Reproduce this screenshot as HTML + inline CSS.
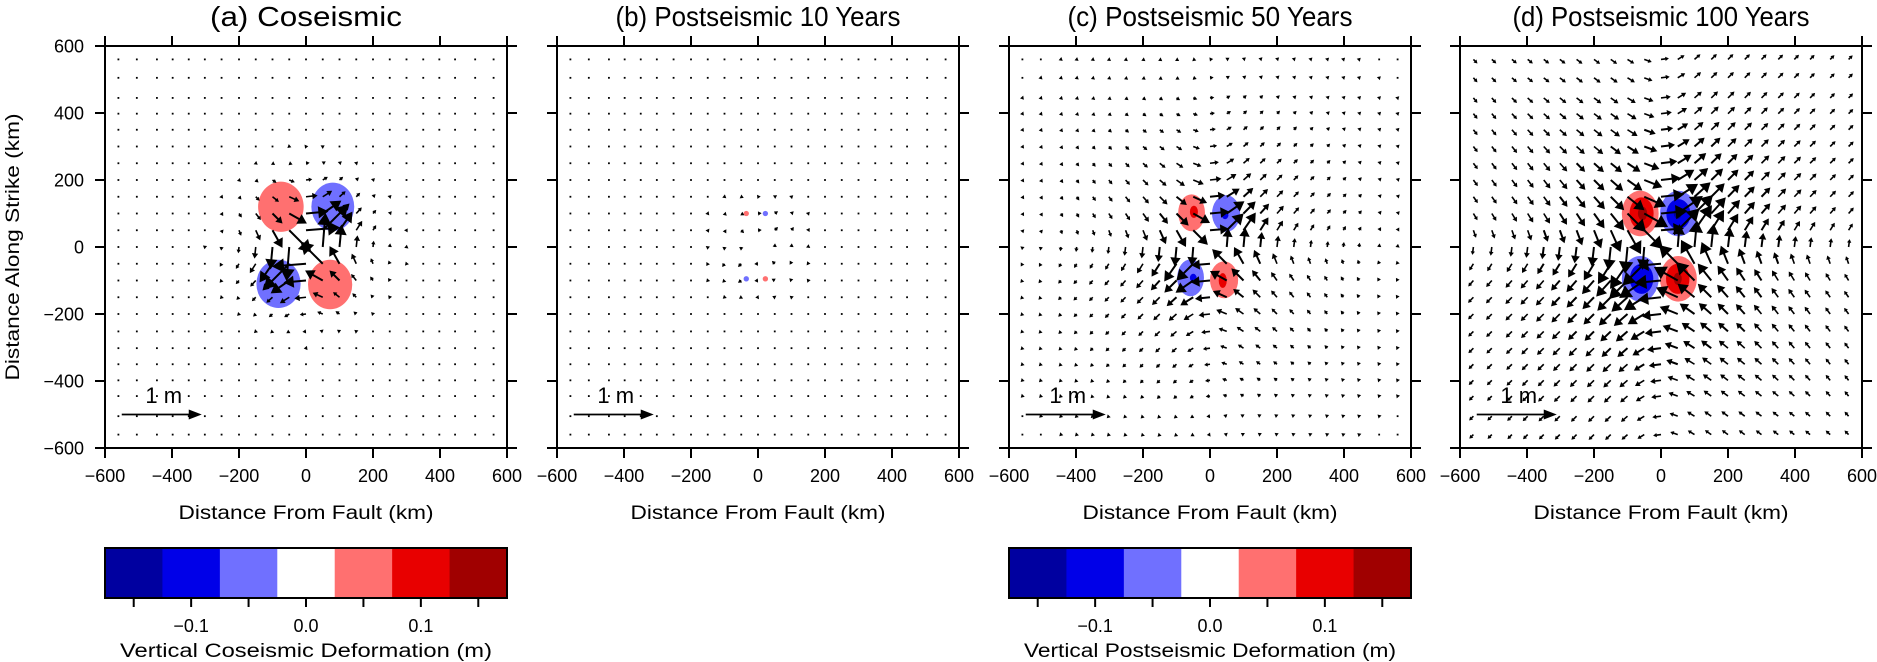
<!DOCTYPE html>
<html><head><meta charset="utf-8"><style>
html,body{margin:0;padding:0;background:#fff;}
svg{display:block;font-family:"Liberation Sans",sans-serif;}
</style></head><body>
<svg id="fig" width="1877" height="662" viewBox="0 0 1877 662" xmlns="http://www.w3.org/2000/svg"></svg>
<script>
// ---- data ----
const panelTitles = ["(a) Coseismic","(b) Postseismic 10 Years","(c) Postseismic 50 Years","(d) Postseismic 100 Years"];
const panelTitleWidths = [192,285,285,297];
const panelAmp = [0.6,0.07,0.36,0.45];      // displacement (m) at reference distance
const panelDecay = [2.8,1.5,1.35,0.95];        // decay exponent
const gridKm = [-560,-505,-445,-398,-350,-302,-252,-200,-150,-100,-50,0,50,100,150,200,250,300,350,398,445,505,560];
const axisTicks = [-600,-400,-200,0,200,400,600];
const tickLabels = ["\u2212600","\u2212400","\u2212200","0","200","400","600"];
// blobs: per panel lists [xKm, yKm, radiusXKm, radiusYKm, value]
const blobsA = [[-75,120,68,75,0.05],[80,120,64,72,-0.05],[-82,-110,66,72,-0.05],[72,-112,66,74,0.05]];
const blobsB = [[-35,100,8,8,0.05],[22,100,8,8,-0.05],[-35,-95,8,8,-0.05],[22,-95,8,8,0.05]];
const blobsC = [[-55,102,40,55,0.05],[48,100,42,55,-0.05],[-58,-92,40,55,-0.05],[42,-98,42,55,0.05],
                [-48,105,12,18,0.1],[45,95,10,12,-0.1],[-50,-92,10,12,-0.1],[38,-100,12,22,0.1]];
const blobsD = [[-62,100,55,68,0.05],[52,100,55,68,-0.05],[-62,-95,55,68,-0.05],[52,-95,55,68,0.05],
                [-58,100,36,48,0.1],[52,98,36,45,-0.1],[-58,-95,35,45,-0.1],[50,-95,35,45,0.1],
                [-55,100,14,20,0.15],[50,100,12,16,-0.15],[50,-95,12,18,0.15]];
const panelBlobs = [blobsA,blobsB,blobsC,blobsD];
const cbarColors = ["#0000a0","#0000e8","#7070ff","#ffffff","#ff7070","#e80000","#a00000"];
const cbarTicks = [-0.15,-0.1,-0.05,0,0.05,0.1,0.15];
const cbarLabels = {"-0.1":"\u22120.1","0":"0.0","0.1":"0.1"};
const cbarTitles = ["Vertical Coseismic Deformation (m)","Vertical Postseismic Deformation (m)"];
const scaleMeters = 1;

// ---- layout ----
const NS="http://www.w3.org/2000/svg";
const svg=document.getElementById('fig');
const px0=[105,557,1009,1460], PW=402, PT=46, PH=402;
const PX_PER_M=80;
function el(tag,attrs,parent){const e=document.createElementNS(NS,tag);for(const k in attrs)e.setAttribute(k,attrs[k]);(parent||svg).appendChild(e);return e;}
function xs(p,km){return px0[p]+(km+600)/1200*PW;}
function ys(km){return PT+(600-km)/1200*PH;}
function colorFor(v){const i=Math.round((v+0.175)/0.05-0.5);return cbarColors[Math.max(0,Math.min(6,i))];}

for(let p=0;p<4;p++){
  const g=el('g',{});
  
  
  panelBlobs[p].forEach(b=>{
    const c=el('ellipse',{cx:xs(p,b[0]),cy:ys(b[1]),rx:b[2]/1200*PW,ry:b[3]/1200*PH,fill:colorFor(b[4])},g);
    
    
  });
  const ag=el('g',{stroke:'#000',fill:'#000'},g);
  
  
  for(const xk of gridKm){for(const yk of gridKm){
    const r=Math.sqrt(xk*xk+yk*yk)||1;
    let vx=Math.tanh(yk/80)+0.15*Math.tanh((xk+yk)/150), vy=Math.tanh(xk/80)+0.15*Math.tanh((xk+yk)/150);
    const reff=Math.sqrt(r*r+80*80);
    const mag=panelAmp[p]*Math.pow(100/reff,panelDecay[p]);
    const vm=Math.sqrt(vx*vx+vy*vy)||1;
    const L=mag*Math.min(vm,1.15)*PX_PER_M;
    const ux=vx/vm, uy=-vy/vm;
    const x0=xs(p,xk), y0=ys(yk);
    if(L<2.2 || vm<0.05){
      el('rect',{x:x0-0.9,y:y0-0.9,width:1.8,height:1.8,stroke:'none'},ag);
    } else {
      const h=Math.min(Math.max(L*0.45,3.5),12), w=h*0.6;
      const sw=L>12?2:1.6;
      const tx=x0+ux*L, ty=y0+uy*L;
      const bx=tx-ux*h, by=ty-uy*h;
      el('line',{x1:x0,y1:y0,x2:tx-ux*h*0.6,y2:ty-uy*h*0.6,'stroke-width':sw},ag);
      el('polygon',{points:`${tx},${ty} ${bx-uy*w},${by+ux*w} ${bx+uy*w},${by-ux*w}`,stroke:'none'},ag);
    }
  }}
  const fr=el('rect',{x:px0[p],y:PT,width:PW,height:PH,fill:'none',stroke:'#000','stroke-width':2},g);
  
  
  axisTicks.forEach((t,i)=>{
    const x=xs(p,t), y=ys(t);
    el('line',{x1:x,y1:PT+PH,x2:x,y2:PT+PH+10,stroke:'#000','stroke-width':2},g);
    el('line',{x1:x,y1:PT,x2:x,y2:PT-10,stroke:'#000','stroke-width':2},g);
    el('line',{x1:px0[p],y1:y,x2:px0[p]-10,y2:y,stroke:'#000','stroke-width':2},g);
    el('line',{x1:px0[p]+PW,y1:y,x2:px0[p]+PW+10,y2:y,stroke:'#000','stroke-width':2},g);
    const xl=el('text',{x:x,y:482,'font-size':18,'text-anchor':'middle'},g);
    xl.textContent=tickLabels[i];
    
    
    if(p===0){
      const yl=el('text',{x:84,y:y+6.5,'font-size':18,'text-anchor':'end'},g);
      yl.textContent=tickLabels[i];
      
      
    }
  });
  const xt=el('text',{x:px0[p]+PW/2,y:519,'font-size':19,'text-anchor':'middle',textLength:255,lengthAdjust:'spacingAndGlyphs'},g);
  xt.textContent='Distance From Fault (km)';
  
  
  const tt=el('text',{x:px0[p]+PW/2,y:26,'font-size':28,'text-anchor':'middle',textLength:panelTitleWidths[p],lengthAdjust:'spacingAndGlyphs'},g);
  tt.textContent=panelTitles[p];
  
  
  const sx=xs(p,-550), sy=ys(-500), sL=scaleMeters*PX_PER_M;
  el('line',{x1:sx,y1:sy,x2:sx+sL-8,y2:sy,stroke:'#000','stroke-width':1.8},g);
  el('polygon',{points:`${sx+sL},${sy} ${sx+sL-13},${sy-5} ${sx+sL-13},${sy+5}`,fill:'#000'},g);
  const st=el('text',{x:sx+42,y:403,'font-size':22,'text-anchor':'middle'},g);
  st.textContent='1 m';
  
  
}
const yt=el('text',{x:0,y:0,'font-size':19,'text-anchor':'middle',transform:'translate(19,247) rotate(-90)',textLength:267,lengthAdjust:'spacingAndGlyphs'});
yt.textContent='Distance Along Strike (km)';



[[0,0],[2,1]].forEach(([p,ti])=>{
  const g=el('g',{});
  
  
  const x0=px0[p], top=548, h=50, sw=PW/7;
  cbarColors.forEach((c,i)=>{el('rect',{x:x0+i*sw,y:top,width:sw+0.5,height:h,fill:c},g);});
  el('rect',{x:x0,y:top,width:PW,height:h,fill:'none',stroke:'#000','stroke-width':2},g);
  cbarTicks.forEach(t=>{
    const x=x0+(t+0.175)/0.35*PW;
    el('line',{x1:x,y1:top+h,x2:x,y2:top+h+9,stroke:'#000','stroke-width':2},g);
    const key=String(t);
    if(cbarLabels[key]){
      const tl=el('text',{x:x,y:632,'font-size':18,'text-anchor':'middle'},g);
      tl.textContent=cbarLabels[key];
      
      
    }
  });
  const ct=el('text',{x:x0+PW/2,y:657,'font-size':19,'text-anchor':'middle',textLength:372,lengthAdjust:'spacingAndGlyphs'},g);
  ct.textContent=cbarTitles[ti];
  
  
});
</script>
</body></html>
